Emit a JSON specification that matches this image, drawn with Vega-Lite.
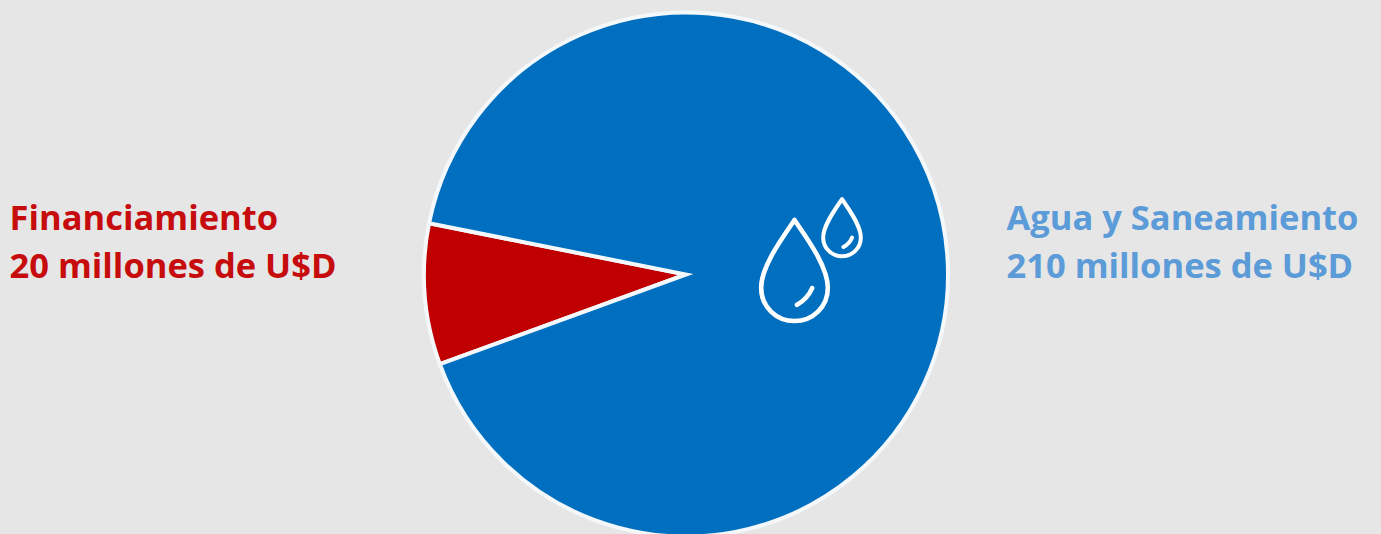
{
  "$schema": "https://vega.github.io/schema/vega-lite/v6.json",
  "width": 1381,
  "height": 534,
  "autosize": {"type": "fit", "contains": "padding"},
  "padding": 0,
  "background": "#E6E6E6",
  "config": {"view": {"stroke": null}},
  "datasets": {
    "sectores": [
      {"categoria": "Financiamiento", "millones": 20},
      {"categoria": "Agua y Saneamiento", "millones": 210}
    ],
    "etiquetas": [
      {"categoria": "Financiamiento", "linea": 1, "texto": "Financiamiento"},
      {"categoria": "Financiamiento", "linea": 2, "texto": "20 millones de U$D"},
      {"categoria": "Agua y Saneamiento", "linea": 1, "texto": "Agua y Saneamiento"},
      {"categoria": "Agua y Saneamiento", "linea": 2, "texto": "210 millones de U$D"}
    ],
    "gotas": [
      {"gota": "grande"},
      {"gota": "pequeña"}
    ]
  },
  "layer": [
    {
      "data": {"name": "sectores"},
      "mark": {"type": "arc", "outerRadius": 262, "stroke": "#F4F8FB", "strokeWidth": 4, "strokeJoin": "miter"},
      "encoding": {
        "x": {"datum": "centro", "type": "nominal", "axis": null, "scale": {"type": "point", "padding": 0, "domain": ["centro"], "range": [686, 686]}},
        "y": {"datum": "centro", "type": "nominal", "axis": null, "scale": {"type": "point", "padding": 0, "domain": ["centro"], "range": [274.5, 274.5]}},
        "theta": {"field": "millones", "type": "quantitative", "stack": true, "scale": {"range": [4.363, 10.646]}},
        "order": {"field": "millones", "type": "quantitative", "sort": "ascending"},
        "color": {"field": "categoria", "type": "nominal", "legend": null, "scale": {"domain": ["Financiamiento", "Agua y Saneamiento"], "range": ["#C00000", "#006FBF"]}}
      }
    },
    {
      "data": {"name": "gotas"},
      "mark": {"type": "point", "shape": "M0 -1C-0.2 -0.7 -0.66 -0.1 -0.66 0.34C-0.66 0.72 -0.36 1 0 1C0.36 1 0.66 0.72 0.66 0.34C0.66 -0.1 0.2 -0.7 0 -1ZM0.05 0.68Q0.26 0.56 0.35 0.35", "filled": false, "stroke": "#FFFFFF", "strokeCap": "round", "strokeJoin": "round", "opacity": 1},
      "encoding": {
        "x": {"field": "gota", "type": "nominal", "axis": null, "scale": {"type": "point", "padding": 0, "domain": ["grande", "pequeña"], "range": [794.5, 842]}},
        "y": {"field": "gota", "type": "nominal", "axis": null, "scale": {"type": "point", "padding": 0, "domain": ["grande", "pequeña"], "range": [270.5, 227.7]}},
        "size": {"field": "gota", "type": "nominal", "legend": null, "scale": {"domain": ["grande", "pequeña"], "range": [10201, 3249]}},
        "strokeWidth": {"field": "gota", "type": "nominal", "legend": null, "scale": {"domain": ["grande", "pequeña"], "range": [4.6, 4]}}
      }
    },
    {
      "data": {"name": "etiquetas"},
      "mark": {"type": "text", "align": "left", "baseline": "middle", "font": "Open Sans", "fontWeight": "bold", "fontSize": 34.5},
      "encoding": {
        "x": {"field": "categoria", "type": "nominal", "axis": null, "scale": {"type": "point", "padding": 0, "domain": ["Financiamiento", "Agua y Saneamiento"], "range": [9.5, 1006.5]}},
        "y": {"field": "linea", "type": "ordinal", "axis": null, "scale": {"type": "point", "padding": 0, "domain": [1, 2], "range": [220, 268]}},
        "text": {"field": "texto"},
        "color": {"field": "categoria", "type": "nominal", "legend": null, "scale": {"domain": ["Financiamiento", "Agua y Saneamiento"], "range": ["#C60C0C", "#5B9BD8"]}}
      }
    }
  ],
  "resolve": {"scale": {"x": "independent", "y": "independent", "color": "independent", "theta": "independent", "size": "independent", "strokeWidth": "independent"}}
}
